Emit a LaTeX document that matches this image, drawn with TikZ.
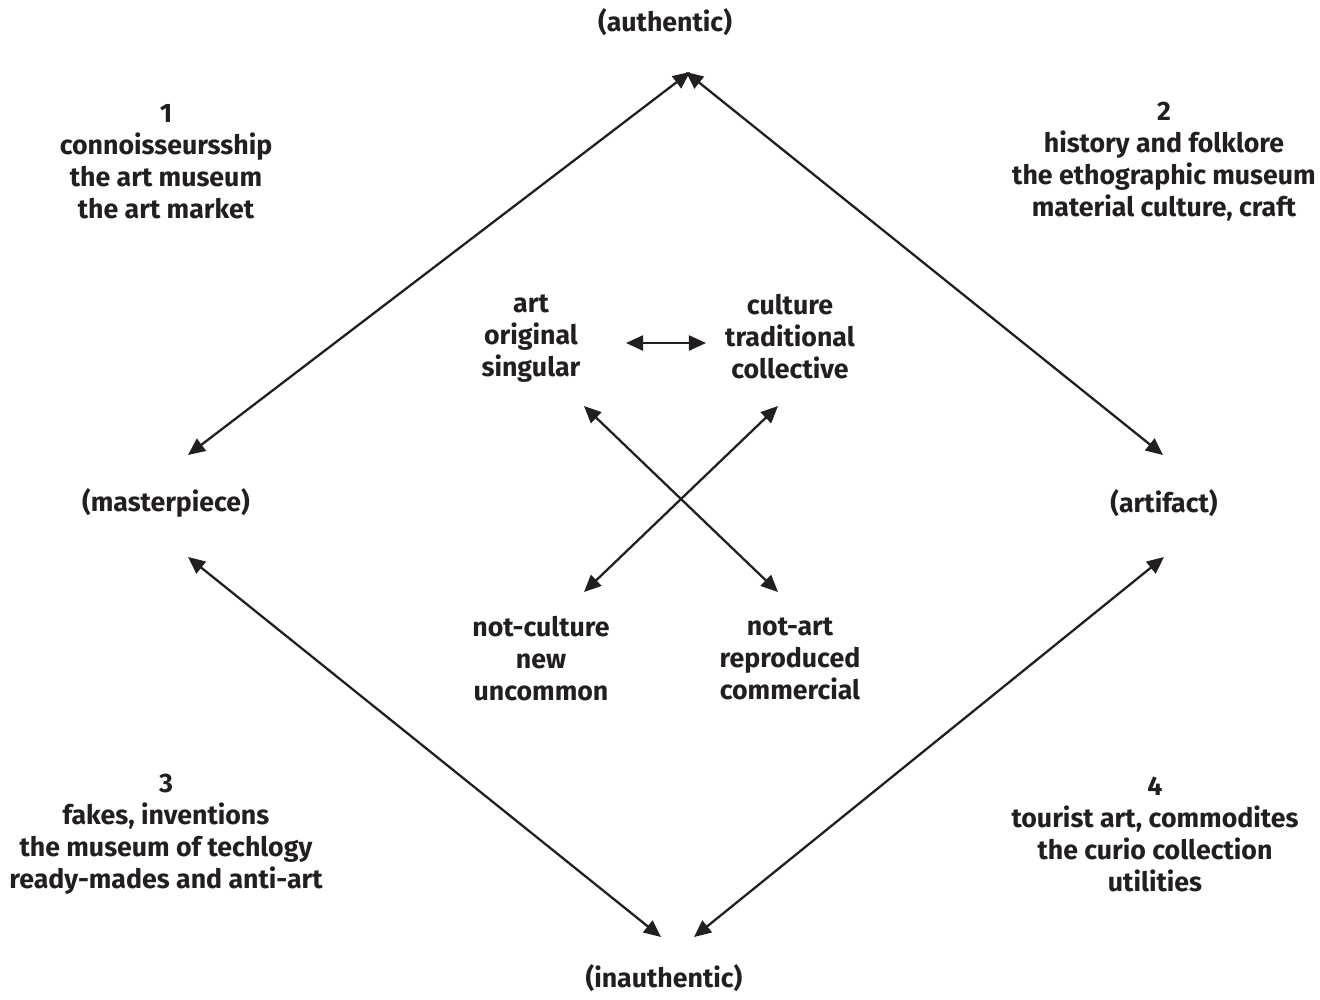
\documentclass[tikz,border=0pt]{standalone}
\usepackage{fontspec}
\setmainfont{Fira Sans}
\usepackage{xcolor}
\usetikzlibrary{arrows.meta,positioning}
\definecolor{ink}{HTML}{231F20}

\begin{document}
\begin{tikzpicture}[
  x=0.01cm, y=-0.01cm,
  every node/.style={font=\fontsize{7.6}{9.1}\selectfont\bfseries, text=ink, align=center, inner sep=0pt},
  link/.style={draw=ink, line width=0.65pt, {Triangle[length=0.17cm,width=0.15cm]}-{Triangle[length=0.17cm,width=0.15cm]}}
]
\useasboundingbox (0,0) rectangle (1320,999);

% Poles of the square
\node (authentic) at (665,22) {(authentic)};
\node (masterpiece) at (166,503) {(masterpiece)};
\node (artifact) at (1164,503) {(artifact)};
\node (inauthentic) at (664,978) {(inauthentic)};

% Quadrant labels
\node (zone1) at (166,162) {1\\connoisseursship\\the art museum\\the art market};
\node (zone2) at (1164,162) {2\\history and folklore\\the ethographic museum\\material culture, craft};
\node (zone3) at (166,834) {3\\fakes, inventions\\the museum of techlogy\\ready-mades and anti-art};
\node (zone4) at (1155,834) {4\\tourist art, commodites\\the curio collection\\utilities};

% Inner terms
\node (art) at (531,339) {art\\original\\singular};
\node (culture) at (790,337) {culture\\traditional\\collective};
\node (notculture) at (541,659) {not-culture\\new\\uncommon};
\node (notart) at (790,659) {not-art\\reproduced\\commercial};

% Arrow ends
\coordinate (authW) at (690,72);
\coordinate (authE) at (686,72);
\coordinate (mastN) at (188,455);
\coordinate (mastS) at (188,557);
\coordinate (artfN) at (1163,455);
\coordinate (artfS) at (1164,557);
\coordinate (inauW) at (661,937);
\coordinate (inauE) at (694,937);
\coordinate (artS) at (584,406);
\coordinate (cultS) at (778,406);
\coordinate (ncultN) at (584,592);
\coordinate (nartN) at (778,592);
\coordinate (artE) at (626,343);
\coordinate (cultW) at (706,343);

% Connections
\draw[link] (mastN) -- (authW);
\draw[link] (authE) -- (artfN);
\draw[link] (mastS) -- (inauW);
\draw[link] (inauE) -- (artfS);
\draw[link] (artE) -- (cultW);
\draw[link] (artS) -- (nartN);
\draw[link] (cultS) -- (ncultN);
\end{tikzpicture}
\end{document}
